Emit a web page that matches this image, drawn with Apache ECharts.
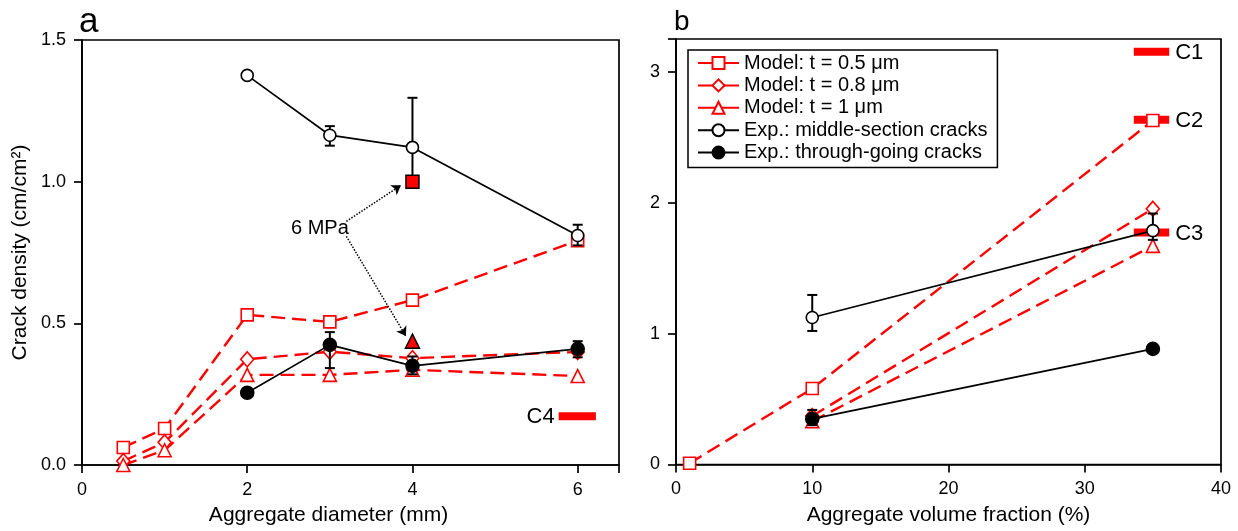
<!DOCTYPE html>
<html>
<head>
<meta charset="utf-8">
<script src="https://cdn.jsdelivr.net/npm/echarts@6/dist/echarts.min.js"></script>
<style>
  html, body { margin: 0; padding: 0; background: #fff; }
  #chart { width: 1238px; height: 531px; }
</style>
</head>
<body>
<div id="chart"></div>
<script>
// ---- data: panel a (aggregate diameter) ----
const diamModel = [0.5, 1, 2, 3, 4, 6];
const t05Diam = [0.062, 0.129, 0.53, 0.505, 0.582, 0.792];
const t08Diam = [0.014, 0.08, 0.373, 0.40, 0.377, 0.399];
const t1Diam = [0.0, 0.052, 0.318, 0.318, 0.336, 0.314];
const diamExp = [2, 3, 4, 6];
const middleDiam = [1.375, 1.164, 1.121, 0.81];
const middleDiamErr = [[3, 1.127, 1.196], [4, 1.02, 1.296], [6, 0.775, 0.848]];
const throughDiam = [0.255, 0.424, 0.35, 0.41];
const throughDiamErr = [[3, 0.342, 0.469], [4, 0.32, 0.383], [6, 0.38, 0.437]];
const mpa6Square = [[4, 1.0]];
const mpa6Triangle = [[4, 0.437]];
const mpaLabel = [[2.88, 0.836]];
const mpaArrows = [[[3.2, 0.86], [3.86, 0.987]], [[3.2, 0.807], [3.92, 0.455]]];
const refDiam = [[5.77, 6.22, 0.172, 'C4']];

// ---- data: panel b (volume fraction) ----
const volT05 = [1, 10, 35];
const t05Vol = [0.01, 0.58, 2.627];
const volModel = [10, 35];
const t08Vol = [0.37, 1.953];
const t1Vol = [0.33, 1.67];
const volExp = [10, 35];
const middleVol = [1.123, 1.786];
const middleVolErr = [[10, 1.02, 1.295], [35, 1.716, 1.917]];
const throughVol = [0.348, 0.883];
const throughVolErr = [[10, 0.30, 0.417]];
const refVol = [[33.6, 36.2, 3.152, 'C1'], [33.6, 36.2, 2.633, 'C2'], [33.6, 36.2, 1.772, 'C3']];

const names = ['Model: t = 0.5 \u03bcm', 'Model: t = 0.8 \u03bcm', 'Model: t = 1 \u03bcm',
  'Exp.: middle-section cracks', 'Exp.: through-going cracks'];

const RED = '#ff0000';
const FONT = 'Liberation Sans, Arial, sans-serif';

function zip(xs, ys) { return xs.map((x, i) => [x, ys[i]]); }

function modelSeries(name, xs, ys, symbol, size, idx) {
  return {
    name: name, type: 'line', xAxisIndex: idx, yAxisIndex: idx,
    data: zip(xs, ys), symbol: symbol, symbolSize: size,
    lineStyle: { color: RED, width: 2.4, type: [14, 7] },
    itemStyle: { color: '#fff', borderColor: RED, borderWidth: 1.6 },
    z: 3
  };
}

function expSeries(name, xs, ys, filled, idx) {
  return {
    name: name, type: 'line', xAxisIndex: idx, yAxisIndex: idx,
    data: zip(xs, ys), symbol: 'circle', symbolSize: filled ? 13 : 12,
    lineStyle: { color: '#000', width: 1.7 },
    itemStyle: { color: filled ? '#000' : '#fff', borderColor: '#000', borderWidth: 1.6 },
    z: 5
  };
}

function errorSeries(data, idx) {
  return {
    type: 'custom', xAxisIndex: idx, yAxisIndex: idx, data: data, z: 4,
    encode: { x: 0, y: [1, 2] },
    renderItem: function (params, api) {
      const lo = api.coord([api.value(0), api.value(1)]);
      const hi = api.coord([api.value(0), api.value(2)]);
      const w = 5;
      const st = { stroke: '#000', lineWidth: 2 };
      return {
        type: 'group', children: [
          { type: 'line', shape: { x1: lo[0], y1: lo[1], x2: hi[0], y2: hi[1] }, style: st },
          { type: 'line', shape: { x1: lo[0] - w, y1: lo[1], x2: lo[0] + w, y2: lo[1] }, style: st },
          { type: 'line', shape: { x1: hi[0] - w, y1: hi[1], x2: hi[0] + w, y2: hi[1] }, style: st }
        ]
      };
    }
  };
}

function refSeries(data, idx, side) {
  return {
    type: 'custom', xAxisIndex: idx, yAxisIndex: idx, data: data, z: 2,
    encode: { x: [0, 1], y: 2 },
    renderItem: function (params, api) {
      const a = api.coord([api.value(0), api.value(2)]);
      const b = api.coord([api.value(1), api.value(2)]);
      const h = 8;
      const tx = side === 'left' ? a[0] - 4 : b[0] + 6;
      return {
        type: 'group', children: [
          { type: 'rect', shape: { x: a[0], y: a[1] - h / 2, width: b[0] - a[0], height: h }, style: { fill: RED } },
          { type: 'text', style: { x: tx, y: a[1] + 1, text: api.value(3), fill: '#000',
              font: '22px ' + FONT, align: side === 'left' ? 'right' : 'left', verticalAlign: 'middle' } }
        ]
      };
    }
  };
}

const axisCommon = {
  axisLine: { onZero: false, lineStyle: { color: '#000', width: 1.7 } },
  axisTick: { length: 8, lineStyle: { color: '#000', width: 1.7 } },
  splitLine: { show: false },
  nameTextStyle: { color: '#000', fontSize: 21, fontFamily: FONT }
};

const tickLabel = { color: '#000', fontSize: 18, fontFamily: FONT };

const option = {
  animation: false,
  backgroundColor: '#fff',
  title: [
    { text: 'a', left: 74, top: 0, textStyle: { fontSize: 35, fontWeight: 'normal', color: '#000', fontFamily: FONT } },
    { text: 'b', left: 669, top: 3, textStyle: { fontSize: 28, fontWeight: 'normal', color: '#000', fontFamily: FONT } }
  ],
  grid: [
    { left: 82, top: 40, width: 537, height: 425, show: true, borderColor: '#000', borderWidth: 1.7 },
    { left: 676, top: 39, width: 545, height: 425.5, show: true, borderColor: '#000', borderWidth: 1.7 }
  ],
  legend: {
    data: names, orient: 'vertical', left: 688, top: 50,
    padding: [3, 10, 5, 9], itemGap: 2.4, itemWidth: 41, itemHeight: 15,
    borderColor: '#000', borderWidth: 1.5,
    lineStyle: { type: 'solid' },
    textStyle: { fontSize: 20, color: '#000', fontFamily: FONT, lineHeight: 20 },
    selectedMode: false
  },
  xAxis: [
    Object.assign({}, axisCommon, {
      gridIndex: 0, type: 'value', min: 0, max: 6.5, interval: 2,
      name: 'Aggregate diameter (mm)', nameLocation: 'middle', nameGap: 40,
      nameTextStyle: Object.assign({}, axisCommon.nameTextStyle, { padding: [0, 44, 0, 0] }),
      axisLabel: Object.assign({}, tickLabel, { margin: 16, formatter: v => (v % 2 === 0 ? String(v) : '') })
    }),
    Object.assign({}, axisCommon, {
      gridIndex: 1, type: 'value', min: 0, max: 40, interval: 10,
      name: 'Aggregate volume fraction (%)', nameLocation: 'middle', nameGap: 40,
      axisLabel: Object.assign({}, tickLabel, { margin: 16 })
    })
  ],
  yAxis: [
    Object.assign({}, axisCommon, {
      gridIndex: 0, type: 'value', min: 0, max: 1.5, interval: 0.5,
      name: 'Crack density (cm/cm\u00b2)', nameLocation: 'middle', nameGap: 51,
      axisLabel: Object.assign({}, tickLabel, { margin: 16, formatter: v => v.toFixed(1) })
    }),
    Object.assign({}, axisCommon, {
      gridIndex: 1, type: 'value', min: 0, max: 3.25, interval: 1,
      axisLabel: Object.assign({}, tickLabel, { margin: 16,
        formatter: v => (Number.isInteger(v) ? String(v) : '') })
    })
  ],
  series: [
    refSeries(refDiam, 0, 'left'),
    modelSeries(names[0], diamModel, t05Diam, 'rect', 12, 0),
    modelSeries(names[1], diamModel, t08Diam, 'diamond', [13, 15], 0),
    modelSeries(names[2], diamModel, t1Diam, 'triangle', 13, 0),
    errorSeries(middleDiamErr, 0),
    errorSeries(throughDiamErr, 0),
    expSeries(names[3], diamExp, middleDiam, false, 0),
    expSeries(names[4], diamExp, throughDiam, true, 0),
    {
      type: 'scatter', xAxisIndex: 0, yAxisIndex: 0, data: mpa6Square, symbol: 'rect', symbolSize: 13,
      itemStyle: { color: RED, borderColor: '#000', borderWidth: 1.5, opacity: 1 }, z: 6
    },
    {
      type: 'scatter', xAxisIndex: 0, yAxisIndex: 0, data: mpa6Triangle, symbol: 'triangle', symbolSize: 14,
      itemStyle: { color: RED, borderColor: '#000', borderWidth: 1.5, opacity: 1 }, z: 6
    },
    {
      type: 'scatter', xAxisIndex: 0, yAxisIndex: 0, data: mpaLabel, symbolSize: 1,
      itemStyle: { color: '#fff', opacity: 1 }, z: 6,
      label: { show: true, position: 'inside', formatter: '6 MPa', color: '#000', fontSize: 20, fontFamily: FONT },
      markLine: {
        silent: true, symbol: ['none', 'arrow'], symbolSize: 9, label: { show: false },
        lineStyle: { color: '#000', width: 1.5, type: 'dotted', opacity: 1 },
        data: mpaArrows.map(p => [{ coord: p[0] }, { coord: p[1] }])
      }
    },
    refSeries(refVol, 1, 'right'),
    modelSeries(names[0], volT05, t05Vol, 'rect', 12, 1),
    modelSeries(names[1], volModel, t08Vol, 'diamond', [13, 15], 1),
    modelSeries(names[2], volModel, t1Vol, 'triangle', 13, 1),
    errorSeries(middleVolErr, 1),
    errorSeries(throughVolErr, 1),
    expSeries(names[3], volExp, middleVol, false, 1),
    expSeries(names[4], volExp, throughVol, true, 1)
  ]
};

const chart = echarts.init(document.getElementById('chart'), null, { renderer: 'canvas' });
chart.setOption(option);
</script>
</body>
</html>
